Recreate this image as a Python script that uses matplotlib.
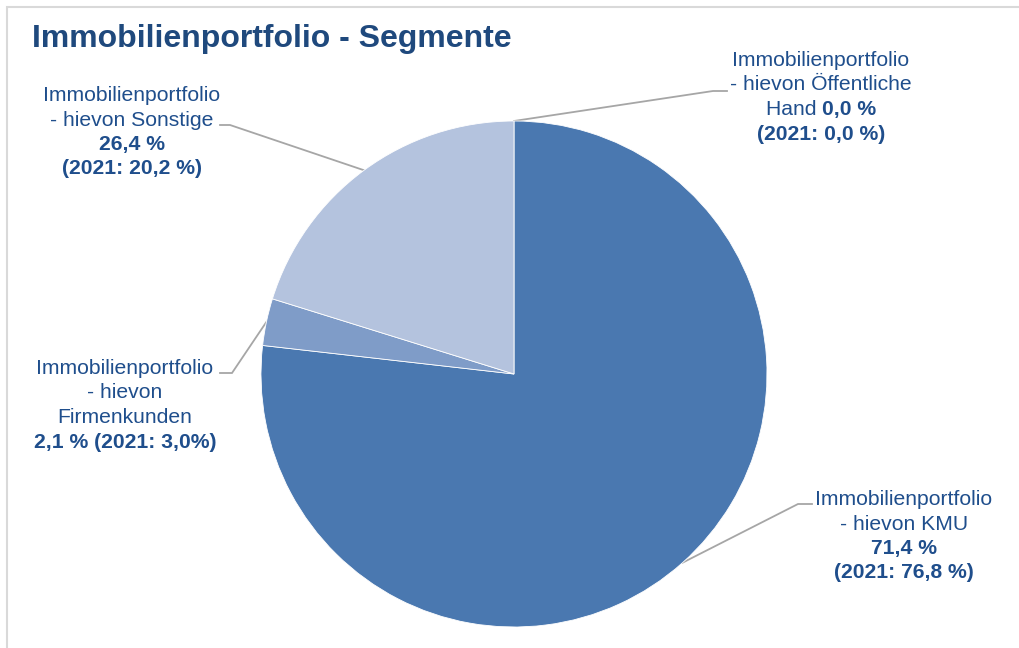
import matplotlib
matplotlib.use('Agg')
import matplotlib.pyplot as plt
from matplotlib.patches import Rectangle

# segment names and shares (pie is drawn from the 2021 shares)
segments = ['Öffentliche Hand', 'KMU', 'Firmenkunden', 'Sonstige']
share_2021 = [0.0, 76.8, 3.0, 20.2]
share_2022 = [0.0, 71.4, 2.1, 26.4]
slice_colors = ['#4a78b0', '#4a78b0', '#7f9cc8', '#b4c3de']

title = 'Immobilienportfolio - Segmente'


def fmt(v):
    return ('%.1f' % v).replace('.', ',')


# label text per segment: list of lines, each a list of (text, bold)
labels = {
    'Öffentliche Hand': [
        [('Immobilienportfolio', False)],
        [('- hievon Öffentliche', False)],
        [('Hand ', False), (fmt(share_2022[0]) + ' %', True)],
        [('(2021: ' + fmt(share_2021[0]) + ' %)', True)],
    ],
    'KMU': [
        [('Immobilienportfolio', False)],
        [('- hievon KMU', False)],
        [(fmt(share_2022[1]) + ' %', True)],
        [('(2021: ' + fmt(share_2021[1]) + ' %)', True)],
    ],
    'Firmenkunden': [
        [('Immobilienportfolio', False)],
        [('- hievon', False)],
        [('Firmenkunden', False)],
        [(fmt(share_2022[2]) + ' % (2021: ' + fmt(share_2021[2]) + '%)', True)],
    ],
    'Sonstige': [
        [('Immobilienportfolio', False)],
        [('- hievon Sonstige', False)],
        [(fmt(share_2022[3]) + ' %', True)],
        [('(2021: ' + fmt(share_2021[3]) + ' %)', True)],
    ],
}

# layout in pixels from top-left: label centre x, first baseline y,
# text edge x, elbow x, elbow y
label_pos = {
    'Öffentliche Hand': (821, 66, 727, 713, 91),
    'KMU': (904, 505, 812, 798, 504),
    'Firmenkunden': (125, 374, 220, 232, 373),
    'Sonstige': (132, 101, 220, 230, 125),
}

W, H = 1020, 648
text_color = '#1f4e8c'
font = 'Liberation Sans'
fsize = 15.2
line_step = 24.5

fig = plt.figure(figsize=(W / 100, H / 100), dpi=100)
fig.patch.set_facecolor('white')
ax = fig.add_axes([0, 0, 1, 1])

cx, cy, r = 514, H - 374, 253
wedges, _ = ax.pie(share_2021, colors=slice_colors, startangle=90,
                   counterclock=False, center=(cx, cy), radius=r,
                   wedgeprops=dict(edgecolor='white', linewidth=0.6))
ax.set_xlim(0, W)
ax.set_ylim(0, H)
ax.set_aspect('auto')
ax.axis('off')

renderer = fig.canvas.get_renderer()

import numpy as np
for seg, w in zip(segments, wedges):
    lx, ly, ex, bx, by = label_pos[seg]
    for i, line in enumerate(labels[seg]):
        y = H - (ly + i * line_step)
        parts = []
        for txt, bold in line:
            t = ax.text(0, y, txt, fontsize=fsize, family=font,
                        weight='bold' if bold else 'normal',
                        color=text_color, ha='left', va='baseline')
            parts.append(t)
        widths = [p.get_window_extent(renderer).width for p in parts]
        x = lx - sum(widths) / 2
        for p, wd in zip(parts, widths):
            p.set_x(x)
            x += wd
    # leader line from label to the wedge edge at its mid angle
    mid = np.deg2rad((w.theta1 + w.theta2) / 2)
    px = cx + r * np.cos(mid)
    py = cy + r * np.sin(mid)
    ax.plot([ex, bx, px], [H - by, H - by, py], color='#a6a6a6',
            lw=1.3, solid_joinstyle='miter', zorder=0.5)

fig.text(32 / W, 1 - 47 / H, title, fontsize=23, family=font,
         weight='bold', color='#1f497d', ha='left', va='baseline')

# chart frame, running off the right and bottom edges
fig.patches.append(Rectangle((6.5, -10), W + 20, H - 6.5 + 10,
                             transform=None, fill=False,
                             edgecolor='#d9d9d9', lw=1.5))

fig.savefig('out.png', dpi=100, facecolor='white')
